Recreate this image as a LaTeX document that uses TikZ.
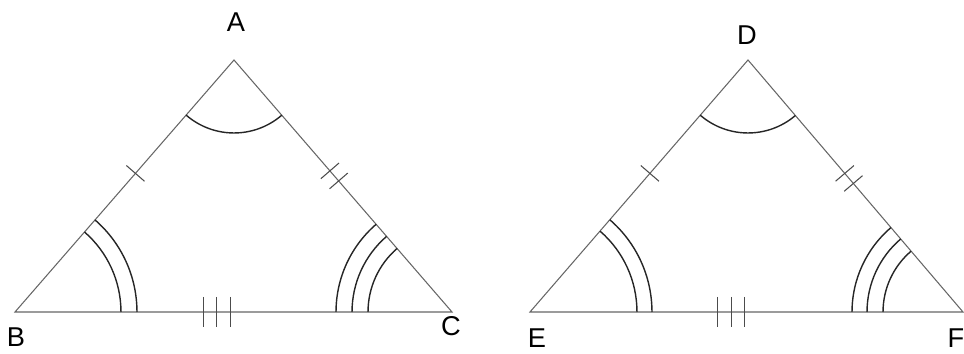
\documentclass[tikz,border=0pt]{standalone}
\usepackage{fontspec}
\setmainfont{Liberation Sans}
\usetikzlibrary{calc,angles}

\begin{document}
\begin{tikzpicture}[x=0.02cm, y=0.02cm,
  side/.style={draw=black!60, line width=0.6pt},
  tickmark/.style={draw=black!70, line width=0.6pt},
  arcmark/.style={draw=black!85, line width=0.8pt},
  vlabel/.style={font=\fontsize{15.5}{18}\selectfont, inner sep=0pt}]
\useasboundingbox (0,0) rectangle (964,354);

% first triangle
\coordinate (A) at (234,294);
\coordinate (B) at (15,42);
\coordinate (C) at (452,42);
\node[vlabel] (lA) at (236,332) {A};
\node[vlabel] (lB) at (16,17) {B};
\node[vlabel] (lC) at (451,28) {C};

\draw[side] (A) -- (B) -- (C) -- cycle;

\pic[arcmark, angle radius=1.46cm] {angle=B--A--C};
\pic[arcmark, angle radius=2.44cm] {angle=C--B--A};
\pic[arcmark, angle radius=2.12cm] {angle=C--B--A};
\pic[arcmark, angle radius=2.32cm] {angle=A--C--B};
\pic[arcmark, angle radius=2.0cm] {angle=A--C--B};
\pic[arcmark, angle radius=1.68cm] {angle=A--C--B};

\draw[tickmark] ($(B)!0.55!(A)!0.24cm!90:(A)$) -- ($(B)!0.55!(A)!0.24cm!-90:(A)$);
\foreach \t in {0.44,0.48}
  \draw[tickmark] ($(A)!\t!(C)!0.24cm!90:(C)$) -- ($(A)!\t!(C)!0.24cm!-90:(C)$);
\foreach \t in {0.431,0.462,0.493}
  \draw[tickmark] ($(B)!\t!(C)!0.3cm!90:(C)$) -- ($(B)!\t!(C)!0.3cm!-90:(C)$);

% second triangle
\coordinate (D) at (748,294);
\coordinate (E) at (530,42);
\coordinate (F) at (963,42);
\node[vlabel] (lD) at (747,319) {D};
\node[vlabel] (lE) at (537,16) {E};
\node[vlabel] (lF) at (956,16) {F};

\draw[side] (D) -- (E) -- (F) -- cycle;

\pic[arcmark, angle radius=1.46cm] {angle=E--D--F};
\pic[arcmark, angle radius=2.44cm] {angle=F--E--D};
\pic[arcmark, angle radius=2.14cm] {angle=F--E--D};
\pic[arcmark, angle radius=2.22cm] {angle=D--F--E};
\pic[arcmark, angle radius=1.92cm] {angle=D--F--E};
\pic[arcmark, angle radius=1.6cm] {angle=D--F--E};

\draw[tickmark] ($(E)!0.55!(D)!0.24cm!90:(D)$) -- ($(E)!0.55!(D)!0.24cm!-90:(D)$);
\foreach \t in {0.45,0.49}
  \draw[tickmark] ($(D)!\t!(F)!0.24cm!90:(F)$) -- ($(D)!\t!(F)!0.24cm!-90:(F)$);
\foreach \t in {0.434,0.465,0.496}
  \draw[tickmark] ($(E)!\t!(F)!0.3cm!90:(F)$) -- ($(E)!\t!(F)!0.3cm!-90:(F)$);
\end{tikzpicture}
\end{document}
